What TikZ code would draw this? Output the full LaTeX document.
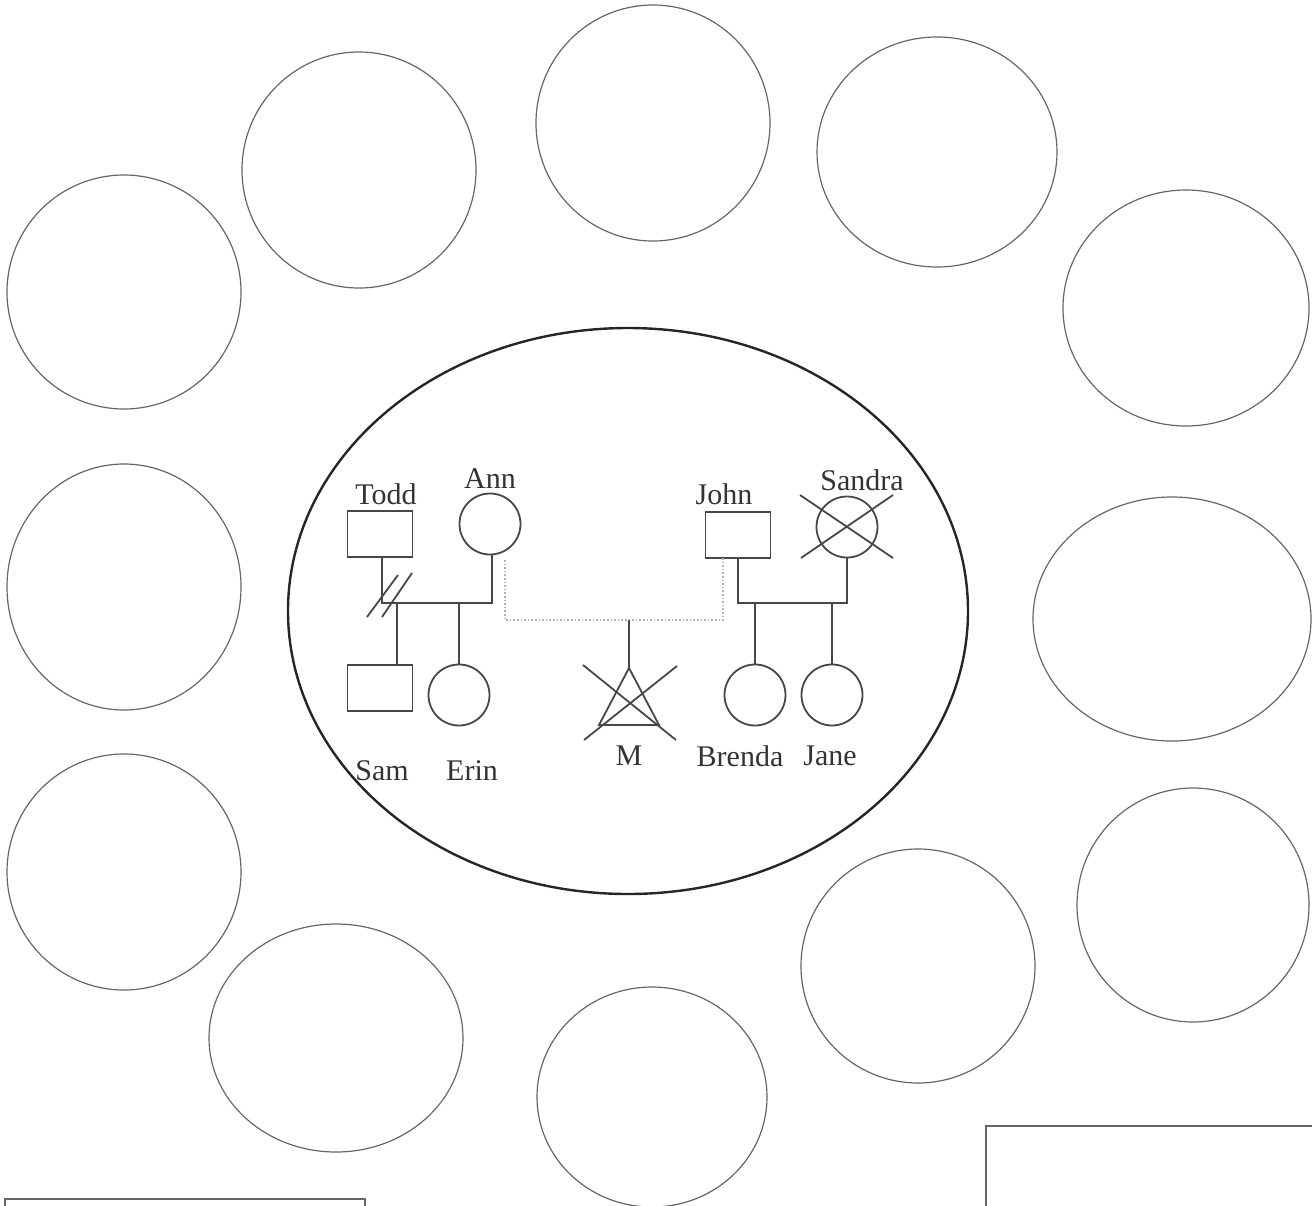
\documentclass[tikz,border=0pt]{standalone}
\usepackage{fontspec}
\setmainfont{Liberation Serif}
\usetikzlibrary{calc}
\begin{document}
\begin{tikzpicture}[x=0.5pt,y=-0.5pt,
  ring/.style={draw=black!60, line width=0.6pt},
  gline/.style={draw=black!72, line width=0.9pt},
  dotline/.style={draw=black!30, line width=0.8pt, densely dotted},
  male/.style={draw=black!72, line width=0.9pt, rectangle, minimum width=32.5pt, minimum height=23pt, inner sep=0pt},
  female/.style={draw=black!72, line width=0.9pt, circle, minimum size=30.5pt, inner sep=0pt},
  lbl/.style={text=black!80, font=\fontsize{15}{18}\selectfont, inner sep=0pt}]
\useasboundingbox (0,0) rectangle (1312,1205);
\clip (0,0) rectangle (1312,1205);
% outer circles
\draw[ring] (359,170) ellipse [x radius=117, y radius=118];
\draw[ring] (653,123) ellipse [x radius=117, y radius=118];
\draw[ring] (937,152) ellipse [x radius=120, y radius=115];
\draw[ring] (124,292) ellipse [x radius=117, y radius=117];
\draw[ring] (1186,308) ellipse [x radius=123, y radius=118];
\draw[ring] (124,587) ellipse [x radius=117, y radius=123];
\draw[ring] (1172,619) ellipse [x radius=139, y radius=122];
\draw[ring] (124,872) ellipse [x radius=117, y radius=118];
\draw[ring] (1193,905) ellipse [x radius=116, y radius=117];
\draw[ring] (336,1038) ellipse [x radius=127, y radius=114];
\draw[ring] (652,1097) ellipse [x radius=115, y radius=110];
\draw[ring] (918,966) ellipse [x radius=117, y radius=117];
% central ellipse
\draw[draw=black!85, line width=1.2pt] (628,611) ellipse [x radius=340, y radius=283];
% bottom boxes
\draw[ring, line width=0.8pt] (5,1199) rectangle (365,1240);
\draw[ring, line width=0.8pt] (986,1126) rectangle (1340,1240);
% genogram symbols
\node[male] (todd) at (380,534) {};
\node[female] (ann) at (490,524) {};
\node[male] (john) at (738,535) {};
\node[female] (sandra) at (847,527) {};
\node[male] (sam) at (380,688) {};
\node[female] (erin) at (459,695) {};
\node[female] (brenda) at (755,695) {};
\node[female] (jane) at (832,695) {};
% labels
\node[lbl] (tl) at (386,494) {Todd};
\node[lbl] (al) at (490,479) {Ann};
\node[lbl] (jl) at (724,494) {John};
\node[lbl] (sl) at (862,480) {Sandra};
\node[lbl] (saml) at (382,771) {Sam};
\node[lbl] (el) at (472,771) {Erin};
\node[lbl] (ml) at (629,756) {M};
\node[lbl] (bl) at (740,756) {Brenda};
\node[lbl] (jnl) at (830,756) {Jane};
% Todd--Ann marriage and children
\coordinate (tam) at (382,603);
\draw[gline] ($(todd.south)+(2,0)$) -- (tam) -- (492,603) -- ($(ann.south)+(2,0)$);
\draw[gline] (367,617) -- (398,575);
\draw[gline] (382,617) -- (412,573);
\draw[gline] (397,603) -- (sam.north -| 397,0);
\draw[gline] (erin.north |- tam) -- (erin.north);
% John--Sandra marriage and children
\coordinate (jsm) at (738,603);
\draw[gline] (john.south) -- (jsm) -- (sandra.south |- jsm) -- (sandra.south);
\draw[gline] (brenda.north |- jsm) -- (brenda.north);
\draw[gline] (jane.north |- jsm) -- (jane.north);
% Sandra deceased cross
\draw[gline] ($(sandra.center)+(-47,-32)$) -- ($(sandra.center)+(46,31)$);
\draw[gline] ($(sandra.center)+(46,-32)$) -- ($(sandra.center)+(-46,31)$);
% Ann--John dotted relationship
\coordinate (dm) at (629,620);
\draw[dotline] (505,560) -- (505,620) -- (dm) -- (723,620) -- (723,558);
% miscarriage M
\coordinate (mapex) at (629,668);
\draw[gline] (dm) -- (mapex);
\draw[gline] (mapex) -- (599,725) -- (659,725) -- cycle;
\draw[gline] (583,665) -- (676,740);
\draw[gline] (677,666) -- (584,740);
\end{tikzpicture}
\end{document}
